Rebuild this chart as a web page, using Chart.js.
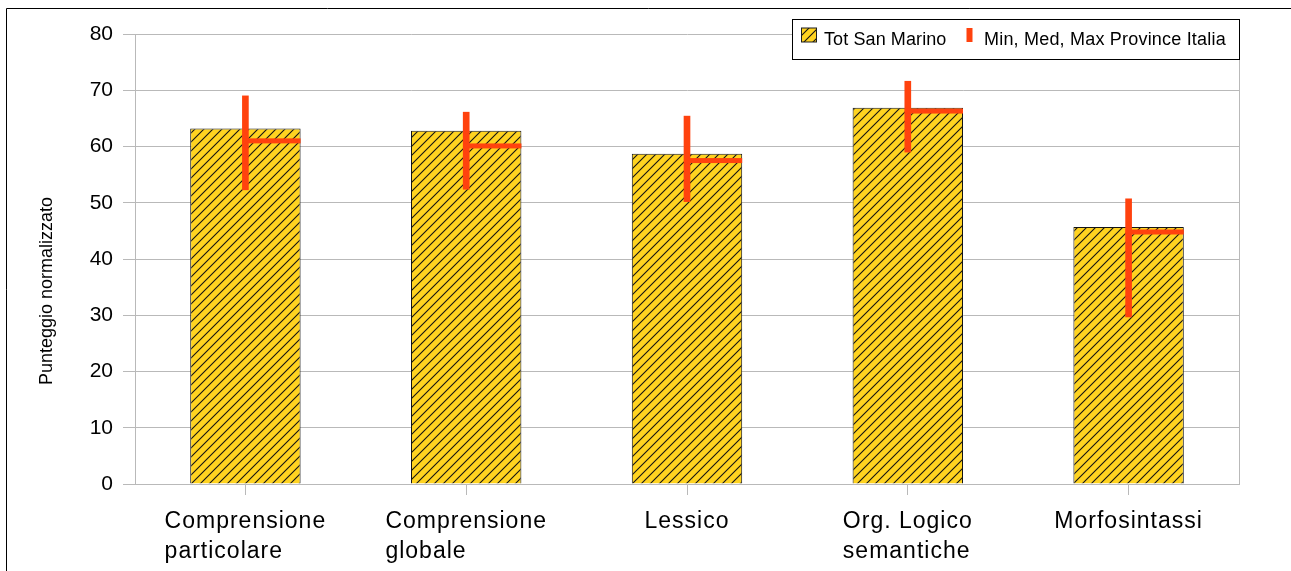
<!DOCTYPE html>
<html>
<head>
<meta charset="utf-8">
<script src="https://cdn.jsdelivr.net/npm/chart.js@4.4.1/dist/chart.umd.min.js"></script>
<style>
  html, body { margin: 0; padding: 0; background: #ffffff; }
  #wrap { position: relative; width: 1291px; height: 571px; }
</style>
</head>
<body>
<div id="wrap"><canvas id="chart" width="1291" height="571"></canvas></div>
<script>
// Categories (each entry is the list of label lines)
const categories = [
  ["Comprensione", "particolare"],
  ["Comprensione", "globale"],
  ["Lessico"],
  ["Org. Logico", "semantiche"],
  ["Morfosintassi"]
];
// Normalised score, San Marino total
const totSanMarino = [63.2, 62.8, 58.7, 66.9, 45.7];
// Italian provinces: minimum, median, maximum
const provinceMin = [52.3, 52.4, 50.2, 59.0, 29.7];
const provinceMed = [61.0, 60.1, 57.5, 66.3, 44.8];
const provinceMax = [69.0, 66.1, 65.4, 71.6, 50.7];
// Value axis ticks
const yTicks = [0, 10, 20, 30, 40, 50, 60, 70, 80];
const seriesNames = ["Tot San Marino", "Min, Med, Max Province Italia"];
const yTitle = "Punteggio normalizzato";

const FONT = '"Liberation Sans", Arial, Helvetica, sans-serif';
const YELLOW = '#ffd320';
const RED = '#ff420e';
const GRID = '#b9b9b9';

// Diagonal hatch fill for the San Marino bars
function makeHatch() {
  const s = 9;
  const c = document.createElement('canvas');
  c.width = s; c.height = s;
  const g = c.getContext('2d');
  g.fillStyle = YELLOW;
  g.fillRect(0, 0, s, s);
  g.strokeStyle = '#141414';
  g.lineWidth = 1.1;
  g.beginPath();
  g.moveTo(-1, s + 1); g.lineTo(s + 1, -1);
  g.moveTo(-1, 1); g.lineTo(1, -1);
  g.moveTo(s - 1, s + 1); g.lineTo(s + 1, s - 1);
  g.stroke();
  return document.getElementById('chart').getContext('2d').createPattern(c, 'repeat');
}
const hatch = makeHatch();

function setSpacing(ctx, px) {
  if ('letterSpacing' in ctx) ctx.letterSpacing = px + 'px';
}

// Outer frame, plot border, median markers, category labels, legend and axis title
const decorations = {
  id: 'decorations',
  beforeDraw(chart) {
    const ctx = chart.ctx;
    ctx.save();
    ctx.strokeStyle = '#000';
    ctx.lineWidth = 1;
    ctx.beginPath();
    ctx.moveTo(6.5, 571); ctx.lineTo(6.5, 8.5); ctx.lineTo(1291, 8.5);
    ctx.stroke();
    ctx.restore();
  },
  afterDatasetsDraw(chart) {
    const ctx = chart.ctx;
    const y = chart.scales.y;
    const bars = chart.getDatasetMeta(1).data;
    const ranges = chart.getDatasetMeta(0).data;
    ctx.save();
    ctx.fillStyle = RED;
    provinceMed.forEach((v, i) => {
      const b = bars[i], r = ranges[i];
      const py = y.getPixelForValue(v);
      const x0 = r.x - r.width / 2;
      const x1 = b.x + b.width / 2;
      ctx.fillRect(x0, py - 2.5, x1 - x0, 5);
    });
    ctx.restore();
  },
  afterDraw(chart) {
    const ctx = chart.ctx;
    const area = chart.chartArea;
    const x = chart.scales.x;
    ctx.save();
    // right edge of the plot frame
    ctx.strokeStyle = GRID;
    ctx.lineWidth = 1;
    ctx.beginPath();
    ctx.moveTo(Math.round(area.right) + 0.5, area.top);
    ctx.lineTo(Math.round(area.right) + 0.5, area.bottom);
    ctx.stroke();

    // category labels: block centred on the tick, lines left-aligned
    ctx.fillStyle = '#000';
    ctx.font = '23px ' + FONT;
    setSpacing(ctx, 1);
    ctx.textAlign = 'left';
    ctx.textBaseline = 'alphabetic';
    categories.forEach((lines, i) => {
      const cx = x.getPixelForValue(i);
      const w = Math.max(...lines.map(l => ctx.measureText(l).width));
      lines.forEach((l, k) => {
        ctx.fillText(l, cx - w / 2, area.bottom + 43.5 + k * 30);
      });
    });

    // y axis title
    setSpacing(ctx, 0);
    ctx.font = '18px ' + FONT;
    ctx.textAlign = 'center';
    ctx.textBaseline = 'middle';
    ctx.translate(47.5, 291);
    ctx.rotate(-Math.PI / 2);
    ctx.fillText(yTitle, 0, 0);
    ctx.setTransform(1, 0, 0, 1, 0, 0);

    // legend
    const bw = 447, bh = 40;
    const bx = Math.round(area.right) - bw + 0.5, by = 19.5;
    ctx.fillStyle = '#fff';
    ctx.fillRect(bx, by, bw, bh);
    ctx.strokeStyle = '#000';
    ctx.strokeRect(bx, by, bw, bh);
    ctx.fillStyle = hatch;
    ctx.fillRect(bx + 9, by + 8.5, 15, 14);
    ctx.strokeStyle = '#1e1e1e';
    ctx.strokeRect(bx + 9, by + 8.5, 15, 14);
    ctx.fillStyle = RED;
    ctx.fillRect(bx + 174, by + 8.5, 6, 14);
    ctx.fillStyle = '#000';
    ctx.font = '18px ' + FONT;
    ctx.textAlign = 'left';
    ctx.textBaseline = 'alphabetic';
    setSpacing(ctx, 0.1);
    ctx.fillText(seriesNames[0], bx + 31.5, by + 25);
    setSpacing(ctx, 0.2);
    ctx.fillText(seriesNames[1], bx + 191.5, by + 25);
    setSpacing(ctx, 0);
    ctx.restore();
  }
};

new Chart(document.getElementById('chart'), {
  type: 'bar',
  data: {
    labels: categories,
    datasets: [
      {
        label: seriesNames[1],
        data: provinceMin.map((v, i) => [v, provinceMax[i]]),
        backgroundColor: RED,
        borderWidth: 0,
        barThickness: 6,
        grouped: false,
        order: 0
      },
      {
        label: seriesNames[0],
        data: totSanMarino,
        backgroundColor: hatch,
        borderColor: '#141414',
        borderWidth: 1,
        borderSkipped: 'start',
        categoryPercentage: 0.5,
        barPercentage: 1,
        grouped: false,
        order: 1
      }
    ]
  },
  options: {
    responsive: false,
    animation: false,
    layout: { padding: { left: 0, right: 52, top: 34, bottom: 0 } },
    plugins: {
      legend: { display: false },
      tooltip: { enabled: false },
      title: { display: false }
    },
    scales: {
      x: {
        offset: true,
        grid: { display: true, drawOnChartArea: false, offset: false, tickLength: 11, color: GRID },
        border: { color: GRID },
        ticks: { display: false },
        afterFit: s => { s.height = 87; }
      },
      y: {
        min: 0,
        max: 80,
        afterBuildTicks: s => { s.ticks = yTicks.map(v => ({ value: v })); },
        ticks: { color: '#000', padding: 10, font: { size: 21, family: FONT } },
        grid: { color: GRID, tickLength: 12 },
        border: { color: GRID },
        afterFit: s => { s.width = 135; }
      }
    }
  },
  plugins: [decorations]
});
</script>
</body>
</html>
